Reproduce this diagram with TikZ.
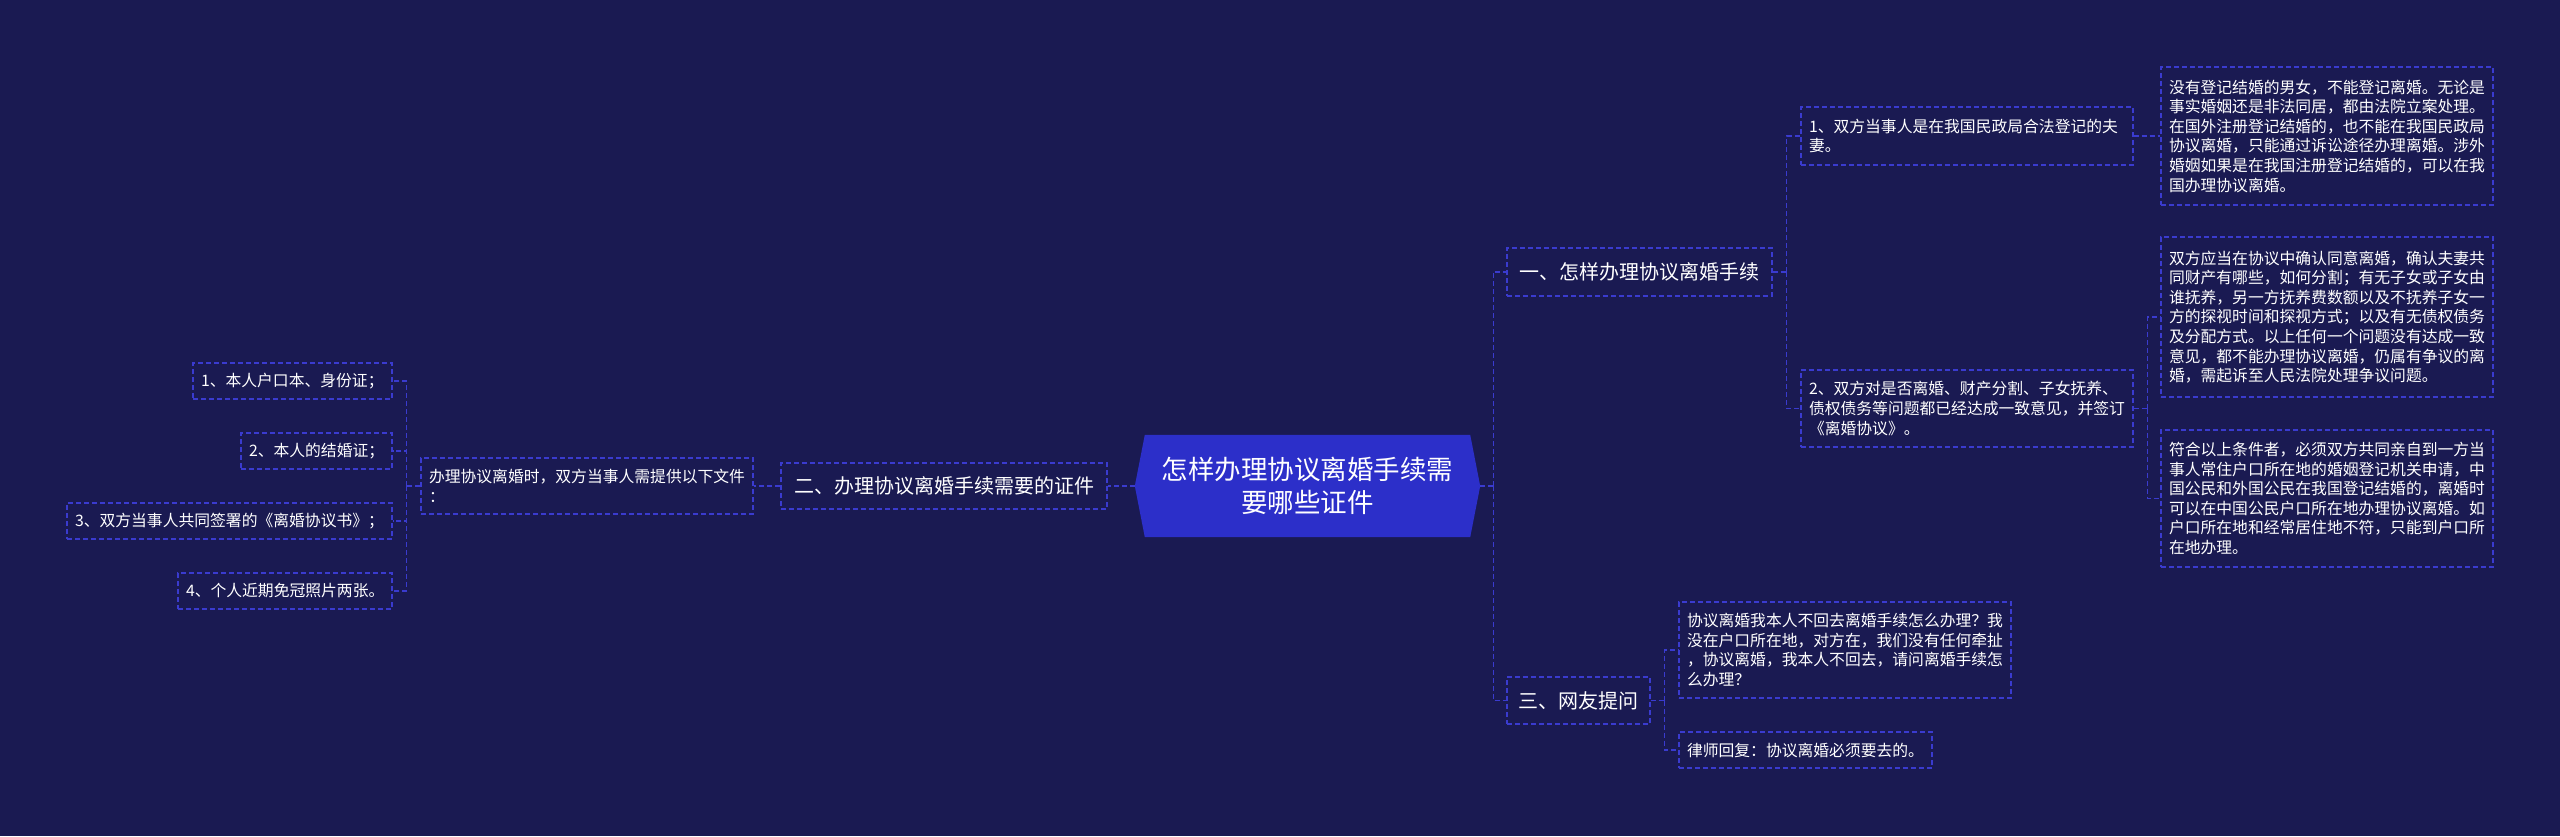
\documentclass[tikz,border=0pt]{standalone}
\usepackage{fontspec}
\newfontfamily\cjk{Noto Sans CJK SC}
\usetikzlibrary{backgrounds}
\definecolor{bgc}{HTML}{1A1A52}
\definecolor{rootc}{HTML}{2C2FC9}
\definecolor{linec}{HTML}{3A3BCF}
\tikzset{
  dashline/.style={draw=linec, dash pattern=on 5pt off 3pt, line width=1.3pt},
  box/.style={dashline, text=white, font=\cjk\fontsize{15.8}{19.6}\selectfont,
    inner xsep=8pt, inner ysep=0pt, align=left, anchor=center},
  bigbox/.style={dashline, text=white, font=\cjk\fontsize{20}{24}\selectfont,
    inner xsep=0pt, inner ysep=0pt, align=center, anchor=center},
  roottext/.style={text=white, font=\cjk\fontsize{26.5}{33}\selectfont,
    inner sep=0pt, align=center, minimum width=325pt, minimum height=102pt},
  conn/.style={dashline},
}
\begin{document}
\begin{tikzpicture}[x=1pt,y=-1pt]
\begin{pgfonlayer}{background}
\fill[bgc] (0,0) rectangle (2560,836);
\end{pgfonlayer}
\useasboundingbox (0,0) rectangle (2560,836);

% root
\node[roottext] (root) at (1307.5,486) {怎样办理协议离婚手续需\\要哪些证件};
\begin{pgfonlayer}{background}
\fill[rootc] (root.north west) -- (root.north east) -- ([xshift=10pt]root.east)
  -- (root.south east) -- (root.south west) -- ([xshift=-10pt]root.west) -- cycle;
\end{pgfonlayer}
\coordinate (rootL) at ([xshift=-10pt]root.west);
\coordinate (rootR) at ([xshift=10pt]root.east);

% branches
\node[bigbox, minimum width=265pt, minimum height=48pt] (b1) at (1639.5,272) {一、怎样办理协议离婚手续};
\node[bigbox, minimum width=326pt, minimum height=46pt] (b2) at (944,486) {二、办理协议离婚手续需要的证件};
\node[bigbox, minimum width=143pt, minimum height=47pt] (b3) at (1578.5,700.5) {三、网友提问};

% branch 1 children
\node[box, text width=316pt, minimum height=58pt] (c11) at (1967,136)
 {1、双方当事人是在我国民政局合法登记的夫\\妻。};
\node[box, text width=316pt, minimum height=77pt] (c12) at (1967,408.5)
 {2、双方对是否离婚、财产分割、子女抚养、\\债权债务等问题都已经达成一致意见，并签订\\《离婚协议》。};
\node[box, text width=316pt, minimum height=138pt] (c111) at (2327,136)
 {没有登记结婚的男女，不能登记离婚。无论是\\事实婚姻还是非法同居，都由法院立案处理。\\在国外注册登记结婚的，也不能在我国民政局\\协议离婚，只能通过诉讼途径办理离婚。涉外\\婚姻如果是在我国注册登记结婚的，可以在我\\国办理协议离婚。};
\node[box, text width=316pt, minimum height=160pt] (c121) at (2327,317)
 {双方应当在协议中确认同意离婚，确认夫妻共\\同财产有哪些，如何分割；有无子女或子女由\\谁抚养，另一方抚养费数额以及不抚养子女一\\方的探视时间和探视方式；以及有无债权债务\\及分配方式。以上任何一个问题没有达成一致\\意见，都不能办理协议离婚，仍属有争议的离\\婚，需起诉至人民法院处理争议问题。};
\node[box, text width=316pt, minimum height=137pt] (c122) at (2327,498.5)
 {符合以上条件者，必须双方共同亲自到一方当\\事人常住户口所在地的婚姻登记机关申请，中\\国公民和外国公民在我国登记结婚的，离婚时\\可以在中国公民户口所在地办理协议离婚。如\\户口所在地和经常居住地不符，只能到户口所\\在地办理。};

% branch 3 children
\node[box, text width=316pt, minimum height=96pt] (c31) at (1845,650)
 {协议离婚我本人不回去离婚手续怎么办理？我\\没在户口所在地，对方在，我们没有任何牵扯\\，协议离婚，我本人不回去，请问离婚手续怎\\么办理？};
\node[box, text width=237pt, minimum height=36pt] (c32) at (1805.5,750)
 {律师回复：协议离婚必须要去的。};

% branch 2 children
\node[box, text width=316pt, minimum height=56pt] (c21) at (587,486)
 {办理协议离婚时，双方当事人需提供以下文件\\：};
\node[box, text width=183pt, minimum height=36pt] (g1) at (292.5,381) {1、本人户口本、身份证；};
\node[box, text width=135pt, minimum height=36pt] (g2) at (316.5,451) {2、本人的结婚证；};
\node[box, text width=309pt, minimum height=36pt] (g3) at (229.5,521) {3、双方当事人共同签署的《离婚协议书》；};
\node[box, text width=198pt, minimum height=36pt] (g4) at (285,591) {4、个人近期免冠照片两张。};

% connectors right
\draw[conn] (rootR) -- ++(13,0) coordinate (tr);
\draw[conn] (tr) |- (b1.west);
\draw[conn] (tr) |- (b3.west);
\draw[conn] (b1.east) -- ++(14,0) coordinate (t1);
\draw[conn] (t1) |- (c11.west);
\draw[conn] (t1) |- (c12.west);
\draw[conn] (c11.east) -- (c111.west);
\draw[conn] (c12.east) -- ++(14,0) coordinate (t12);
\draw[conn] (t12) |- (c121.west);
\draw[conn] (t12) |- (c122.west);
\draw[conn] (b3.east) -- ++(14,0) coordinate (t3);
\draw[conn] (t3) |- (c31.west);
\draw[conn] (t3) |- (c32.west);

% connectors left
\draw[conn] (rootL) -- (b2.east);
\draw[conn] (b2.west) -- (c21.east);
\draw[conn] (c21.west) -- ++(-14,0) coordinate (tl);
\draw[conn] (tl) |- (g1.east);
\draw[conn] (tl) |- (g2.east);
\draw[conn] (tl) |- (g3.east);
\draw[conn] (tl) |- (g4.east);
\end{tikzpicture}
\end{document}
